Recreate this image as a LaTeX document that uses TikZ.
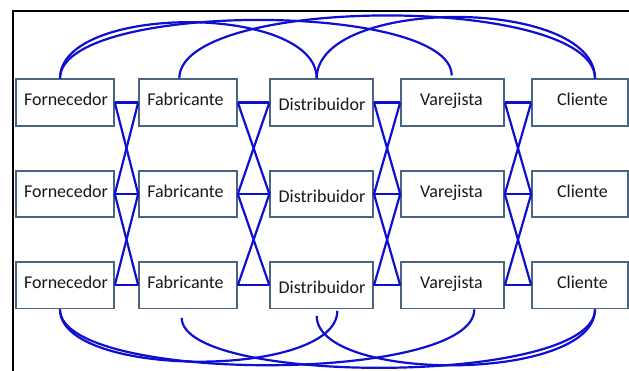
\documentclass[tikz,border=0pt]{standalone}
\usepackage{fontspec}
\setmainfont{Carlito}
\usetikzlibrary{calc}
\definecolor{conn}{RGB}{15,15,210}
\definecolor{boxline}{RGB}{72,102,132}
\definecolor{txt}{RGB}{25,25,25}
\begin{document}
\begin{tikzpicture}[x=1pt,y=-1pt,
  box/.style={draw=boxline,line width=1.6pt,fill=white,minimum height=46.5pt,inner sep=0pt},
  lbl/.style={anchor=base,text=txt,font=\fontsize{18}{20}\selectfont,inner sep=0pt},
  link/.style={draw=conn,line width=2.2pt},
  frameline/.style={line width=2.5pt,black}]
\useasboundingbox (0,0) rectangle (629,371);
\fill[white] (0,0) rectangle (629,371);
\draw[frameline] (13.2,372) -- (13.2,11) -- (630,11);
% boxes
\foreach \r/\y in {1/102.5,2/194,3/285.3}{
  \node[box,minimum width=98pt] (f\r) at (65,\y) {};
  \node[box,minimum width=98pt] (b\r) at (188,\y) {};
  \node[box,minimum width=103pt] (d\r) at (321.7,\y) {};
  \node[box,minimum width=103pt] (v\r) at (452.5,\y) {};
  \node[box,minimum width=96pt] (c\r) at (580,\y) {};
}
% straight connectors
\foreach \a/\b in {f/b,b/d,d/v,v/c}{
  \foreach \r in {1,2,3}{\draw[link] (\a\r.east) -- (\b\r.west);}
  \draw[link] (\a1.east) -- (\b2.west);
  \draw[link] (\a2.east) -- (\b1.west);
  \draw[link] (\a2.east) -- (\b3.west);
  \draw[link] (\a3.east) -- (\b2.west);
}
% curve end points
\coordinate (tF) at ($(f1.north)+(-5,0)$);
\coordinate (tB) at ($(b1.north)+(-8.7,0)$);
\coordinate (tD) at ($(d1.north)+(-5,0)$);
\coordinate (tV) at ($(v1.north)+(-0.8,-3)$);
\coordinate (tC) at ($(c1.north)+(15,0)$);
\coordinate (bF) at ($(f3.south)+(-5,0)$);
\coordinate (bB) at ($(b3.south)+(-6.3,8.5)$);
\coordinate (bD1) at ($(d3.south)+(-5,6.5)$);
\coordinate (bD2) at ($(d3.south)+(15.6,1.5)$);
\coordinate (bV) at ($(v3.south)+(21.8,0)$);
\coordinate (bC) at ($(c3.south)+(15,0)$);
% top arches
\draw[link] (tF) .. controls +(0,-75) and +(0,-75) .. (tD);
\draw[link] (tF) .. controls +(0,-77.5) and +(0,-74.5) .. (tV);
\draw[link] (tB) .. controls +(0,-84) and +(0,-84) .. (tC);
\draw[link] (tD) .. controls +(0,-82) and +(0,-82) .. (tC);
% bottom arches
\draw[link] (bB) .. controls +(0,68) and +(0,76.5) .. (bC);
\draw[link] (bD1) .. controls +(0,67) and +(0,73.5) .. (bC);
\draw[link] (bD2) .. controls +(0,68) and +(0,69.5) .. (bF);
\draw[link] (bV) .. controls +(0,74.5) and +(0,74.5) .. (bF);
% labels
\foreach \r in {1,2,3}{
  \node[lbl] (tf\r) at ($(f\r.center)+(1,3.3)$) {Fornecedor};
  \node[lbl] (tb\r) at ($(b\r.center)+(-2.5,3.3)$) {Fabricante};
  \node[lbl] (td\r) at ($(d\r.center)+(0.3,8.5)$) {Distribuidor};
  \node[lbl] (tv\r) at ($(v\r.center)+(-1,3.3)$) {Varejista};
  \node[lbl] (tc\r) at ($(c\r.center)+(2.5,3.3)$) {Cliente};
}
\end{tikzpicture}
\end{document}
